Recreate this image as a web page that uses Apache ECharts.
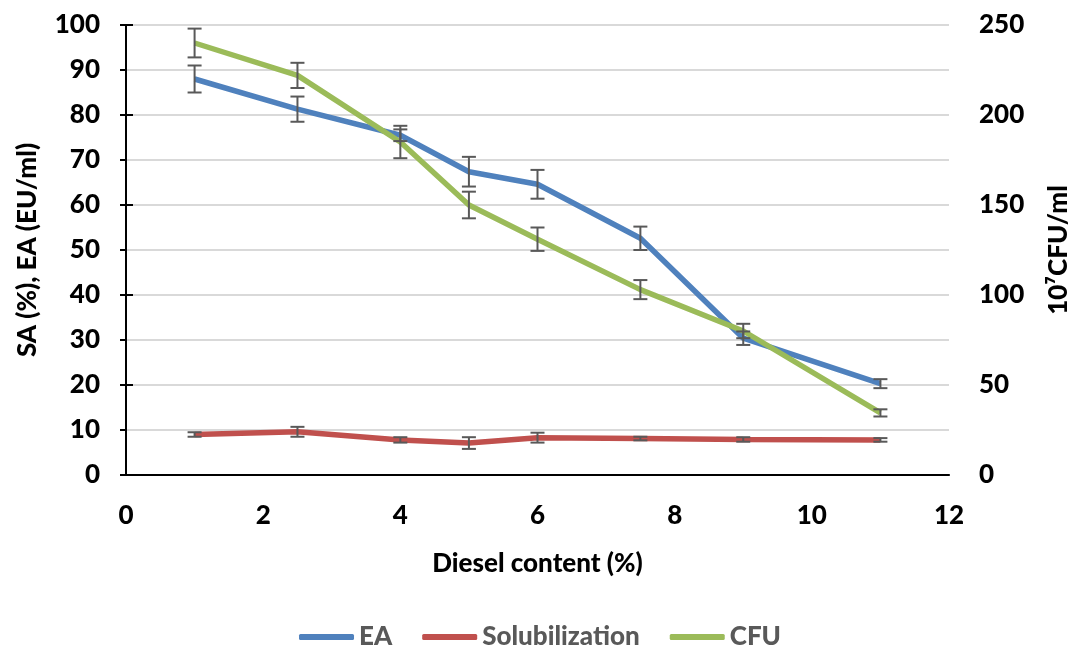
<!DOCTYPE html>
<html><head><meta charset="utf-8">
<script src="https://cdn.jsdelivr.net/npm/echarts@6/dist/echarts.min.js"></script>
<style>html,body{margin:0;padding:0;background:#fff}#c{width:1080px;height:657px}</style>
</head><body><div id="c"></div>
<script>
const xValues = [1, 2.5, 4, 5, 6, 7.5, 9, 11];
const eaValues = [88, 81.3, 75.5, 67.4, 64.6, 52.6, 30.4, 20.3];
const eaErrors = [3, 2.8, 1.3, 3.3, 3.2, 2.6, 1.5, 1];
const solValues = [9.0, 9.6, 7.8, 7.1, 8.3, 8.1, 7.9, 7.8];
const solErrors = [0.5, 1.1, 0.6, 1.3, 1.1, 0.4, 0.5, 0.4];
const cfuValues = [240, 222, 185, 150, 131, 103, 80, 34.5];
const cfuErrors = [8, 7, 9, 7.4, 6.5, 5.3, 4, 2];

const font = 'Lato';
const fw = 900;
const fs = 26;
const pairs = (ys) => xValues.map((x, i) => [x, ys[i]]);
const errData = (ys, es) => xValues.map((x, i) => [x, ys[i] - es[i], ys[i] + es[i]]);

function errRender(params, api) {
  const x = api.value(0);
  const lo = api.coord([x, api.value(1)]);
  const hi = api.coord([x, api.value(2)]);
  const w = 7;
  const st = { stroke: '#595959', lineWidth: 2 };
  return { type: 'group', children: [
    { type: 'line', shape: { x1: lo[0], y1: lo[1], x2: hi[0], y2: hi[1] }, style: st },
    { type: 'line', shape: { x1: lo[0] - w, y1: lo[1], x2: lo[0] + w, y2: lo[1] }, style: st },
    { type: 'line', shape: { x1: hi[0] - w, y1: hi[1], x2: hi[0] + w, y2: hi[1] }, style: st }
  ]};
}

const chart = echarts.init(document.getElementById('c'));
const axisLabel = { color: '#000', fontFamily: font, fontWeight: fw, fontSize: fs };
const nameStyle = { color: '#000', fontFamily: font, fontWeight: fw, fontSize: fs };
chart.setOption({
  animation: false,
  grid: { left: 126, right: 125, top: 25, bottom: 182 },
  legend: {
    bottom: 2, left: 'center', itemWidth: 55, itemHeight: 6, itemGap: 30, icon: 'roundRect',
    textStyle: { color: '#595959', fontFamily: font, fontWeight: fw, fontSize: fs },
    data: ['EA', 'Solubilization', 'CFU']
  },
  xAxis: [{
    type: 'value', min: 0, max: 12, interval: 2,
    name: 'Diesel content (%)', nameLocation: 'middle', nameGap: 76,
    nameTextStyle: nameStyle,
    axisLine: { lineStyle: { color: '#BFBFBF', width: 2 } },
    axisTick: { show: false },
    splitLine: { show: false },
    axisLabel: Object.assign({ margin: 28 }, axisLabel)
  }, {
    type: 'value', min: 0, max: 12, position: 'top',
    axisLine: { show: true, lineStyle: { color: '#000', width: 2 } },
    axisTick: { show: false }, axisLabel: { show: false }, splitLine: { show: false }
  }],
  yAxis: [{
    type: 'value', min: 0, max: 100, interval: 10,
    name: 'SA (%), EA (EU/ml)', nameLocation: 'middle', nameGap: 85, nameRotate: 90,
    nameTextStyle: nameStyle,
    axisLine: { show: true, lineStyle: { color: '#000', width: 2 } },
    axisTick: { show: true, length: 6, lineStyle: { color: '#000', width: 2 } },
    splitLine: { lineStyle: { color: '#D9D9D9', width: 2 } },
    axisLabel: Object.assign({ margin: 26 }, axisLabel)
  }, {
    type: 'value', min: 0, max: 250, interval: 50, position: 'right',
    name: '10⁷CFU/ml', nameLocation: 'middle', nameGap: 97, nameRotate: 90,
    nameTextStyle: nameStyle,
    axisLine: { show: true, lineStyle: { color: '#000', width: 2 } },
    axisTick: { show: true, length: 7, lineStyle: { color: '#000', width: 2 } },
    splitLine: { show: false },
    axisLabel: Object.assign({ margin: 30 }, axisLabel)
  }],
  series: [
    { name: 'EA', type: 'line', data: pairs(eaValues), symbol: 'none', yAxisIndex: 0,
      lineStyle: { color: '#4F81BD', width: 5.5 }, itemStyle: { color: '#4F81BD' }, z: 2 },
    { name: 'Solubilization', type: 'line', data: pairs(solValues), symbol: 'none', yAxisIndex: 0,
      lineStyle: { color: '#C0504D', width: 5.5 }, itemStyle: { color: '#C0504D' }, z: 2 },
    { name: 'CFU', type: 'line', data: pairs(cfuValues), symbol: 'none', yAxisIndex: 1,
      lineStyle: { color: '#9BBB59', width: 5.5 }, itemStyle: { color: '#9BBB59' }, z: 3 },
    { type: 'custom', yAxisIndex: 0, data: errData(eaValues, eaErrors), renderItem: errRender, z: 5, encode: { x: 0, y: [1, 2] } },
    { type: 'custom', yAxisIndex: 0, data: errData(solValues, solErrors), renderItem: errRender, z: 5, encode: { x: 0, y: [1, 2] } },
    { type: 'custom', yAxisIndex: 1, data: errData(cfuValues, cfuErrors), renderItem: errRender, z: 5, encode: { x: 0, y: [1, 2] } }
  ]
});
</script></body></html>
